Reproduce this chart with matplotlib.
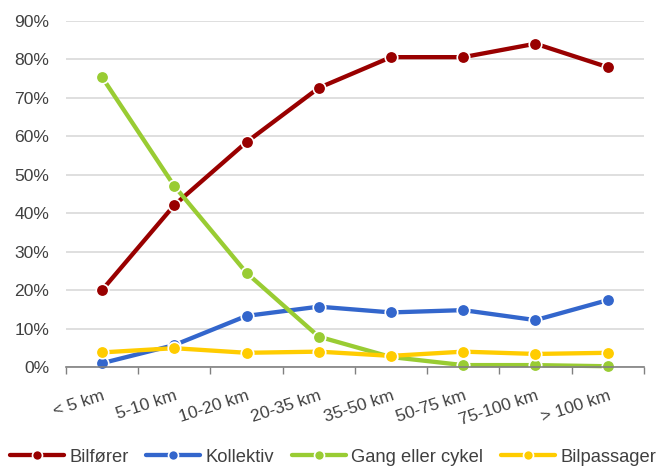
import matplotlib
matplotlib.use("Agg")
import matplotlib.pyplot as plt
import numpy as np

categories = ["< 5 km", "5-10 km", "10-20 km", "20-35 km", "35-50 km", "50-75 km", "75-100 km", "> 100 km"]
bilforer = [20.0, 42.1, 58.5, 72.6, 80.6, 80.6, 84.1, 78.0]
kollektiv = [1.0, 5.7, 13.3, 15.7, 14.2, 14.8, 12.2, 17.4]
gang_cykel = [75.4, 47.1, 24.5, 7.9, 2.6, 0.5, 0.5, 0.2]
bilpassager = [3.8, 4.9, 3.7, 4.0, 2.9, 4.0, 3.4, 3.7]
series_names = ["Bilfører", "Kollektiv", "Gang eller cykel", "Bilpassager"]
colors = ["#990000", "#3366CC", "#99CC33", "#FFCC00"]

plt.rcParams['font.family'] = ['Liberation Sans', 'DejaVu Sans']
fs = 12.6
txt = "#404040"

fig = plt.figure(figsize=(6.59, 4.66), dpi=100)
ax = fig.add_axes([0.100, 0.2124, 0.877, 0.7425])

x = np.arange(len(categories))
for vals, name, c in zip([bilforer, kollektiv, gang_cykel, bilpassager], series_names, colors):
    ax.plot(x, np.array(vals) / 100.0, color=c, lw=3.1, marker='o', markersize=9,
            markerfacecolor=c, markeredgecolor='white', markeredgewidth=1.2,
            label=name, solid_capstyle='round', clip_on=False)

ax.set_xlim(-0.5, len(categories) - 0.5)
ax.set_ylim(0, 0.9)
ax.set_yticks(np.arange(0, 0.91, 0.1))
ax.set_yticklabels([f"{int(round(v*100))}%" for v in np.arange(0, 0.91, 0.1)], fontsize=fs, color=txt)
ax.tick_params(axis='y', length=0, pad=12)
ax.yaxis.grid(True, color="#D9D9D9", lw=1.2)
ax.set_axisbelow(True)

ax.set_xticks(np.arange(-0.5, len(categories), 1.0))
ax.set_xticklabels([])
ax.tick_params(axis='x', which='major', length=5, width=1, color="#808080", direction='out')
ax.set_xticks(x, minor=True)
ax.set_xticklabels(categories, minor=True, fontsize=fs, color=txt, rotation=18,
                   ha='right', va='top', rotation_mode='anchor')
ax.tick_params(axis='x', which='minor', length=0, pad=15)

for s in ['left', 'right', 'top']:
    ax.spines[s].set_visible(False)
ax.spines['bottom'].set_color("#808080")
ax.spines['bottom'].set_linewidth(1.2)

leg = fig.legend(loc='center', bbox_to_anchor=(0.505, 0.019), ncol=4, frameon=False,
                 fontsize=13.2, handlelength=2.95, handletextpad=0.3, columnspacing=0.95,
                 markerscale=0.8, labelcolor=txt, borderaxespad=0, borderpad=0)

fig.savefig("out.png", dpi=100)
